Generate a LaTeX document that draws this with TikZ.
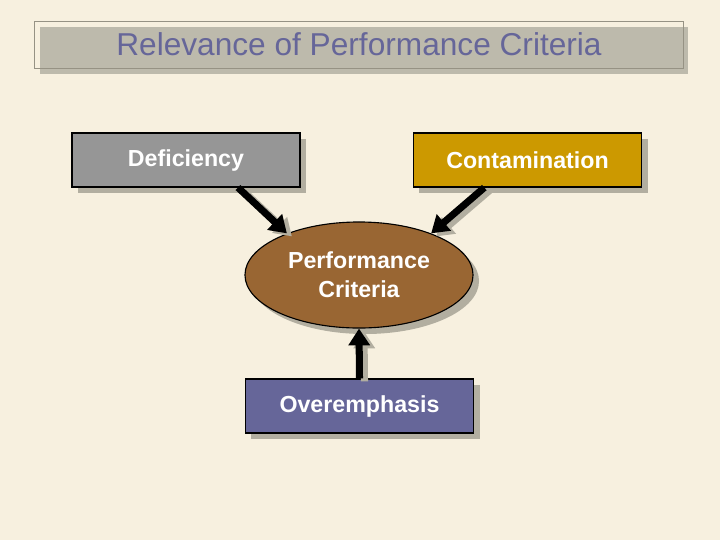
\documentclass[tikz,border=0pt]{standalone}
\usepackage{fontspec}
\setmainfont{Liberation Sans}
\usetikzlibrary{shadows,arrows.meta,shapes.geometric}
\definecolor{bgcream}{RGB}{247,240,223}
\definecolor{titlegray}{RGB}{189,186,172}
\definecolor{framegray}{RGB}{150,146,132}
\definecolor{shadowgray}{RGB}{178,174,160}
\definecolor{titleblue}{RGB}{102,102,153}
\definecolor{defgray}{RGB}{150,150,150}
\definecolor{contgold}{RGB}{204,153,0}
\definecolor{critbrown}{RGB}{153,102,51}
\definecolor{overblue}{RGB}{102,102,153}
\begin{document}
\begin{tikzpicture}[x=0.025cm,y=-0.025cm,
  box/.style={draw=black, line width=0.8pt, minimum width=5.7cm, minimum height=1.35cm,
    text=white, font=\fontsize{16.5}{20.5}\selectfont\bfseries,
    drop shadow={shadow xshift=0.15cm, shadow yshift=-0.15cm, fill=shadowgray, opacity=1}},
  bigarrow/.style={line width=5pt, -{Triangle[length=0.42cm,width=0.52cm]}},
  arrowshadow/.style={bigarrow, shadowgray}]
\fill[bgcream] (0,0) rectangle (720,540);
\useasboundingbox (0,0) rectangle (720,540);
% title
\node[draw=framegray, line width=0.6pt, minimum width=16.2cm, minimum height=1.175cm,
  text=titleblue, font=\fontsize{22.5}{26}\selectfont,
  drop shadow={shadow xshift=0.125cm, shadow yshift=-0.15cm, fill=titlegray, opacity=1}]
  (title) at (359,44.5) {Relevance of Performance Criteria};
% boxes
\node[box, fill=defgray] (def) at (186,160) {Deficiency};
\node[box, fill=contgold] (cont) at (527.5,160) {Contamination};
\node[box, fill=critbrown, ellipse, minimum width=5.7cm, minimum height=2.65cm, align=center,
  inner sep=0pt] (crit) at (359,275) {Performance\\Criteria};
\node[box, fill=overblue] (over) at (359.5,406) {Overemphasis};
% arrow shadows
\draw[arrowshadow] ([shift={(57,3)}]def.south) -- ([shift={(5,3)}]crit.150);
\draw[arrowshadow] ([shift={(-38,3)}]cont.south) -- ([shift={(5,3)}]crit.30);
\draw[arrowshadow] ([shift={(5,3)}]over.north) -- ([shift={(5,3)}]crit.south);
% arrows
\draw[bigarrow] ([xshift=1.3cm]def.south) -- (crit.150);
\draw[bigarrow] ([xshift=-1.08cm]cont.south) -- (crit.30);
\draw[bigarrow] (over.north) -- (crit.south);
\end{tikzpicture}
\end{document}
